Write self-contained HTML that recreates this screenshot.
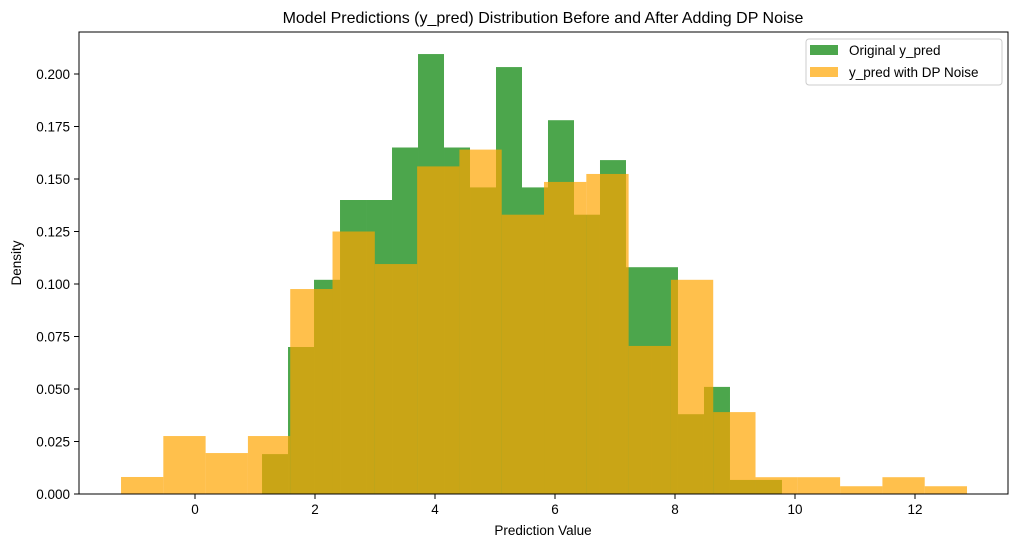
<!DOCTYPE html>
<html><head><meta charset="utf-8"><style>
body{margin:0;background:#fff;}
svg text{font-family:"Liberation Sans","DejaVu Sans",sans-serif;fill:#000;}
</style></head><body>
<svg id="chart" width="1018" height="547" xmlns="http://www.w3.org/2000/svg">
<rect width="1018" height="547" fill="#fff"/>
<text x="543" y="23" font-size="16" text-anchor="middle">Model Predictions (y_pred) Distribution Before and After Adding DP Noise</text>
<g id="bars"></g>
<rect x="79" y="32" width="929" height="462" fill="none" stroke="#000" stroke-width="1"/>
<g id="xticks"></g><g id="yticks"></g>
<text x="543" y="535" font-size="13.5" text-anchor="middle">Prediction Value</text>
<text transform="translate(21,263) rotate(-90)" font-size="13.5" text-anchor="middle">Density</text>
<g>
<rect x="806" y="39" width="196" height="46" rx="3" fill="#fff" fill-opacity="0.8" stroke="#ccc"/>
<rect x="810" y="45" width="28" height="10" fill="green" fill-opacity="0.7"/>
<text x="849" y="55" font-size="13.5">Original y_pred</text>
<rect x="810" y="67" width="28" height="10" fill="orange" fill-opacity="0.7"/>
<text x="849" y="77" font-size="13.5">y_pred with DP Noise</text>
</g>
</svg>
<script>
const greenStart = 1.117;
const greenWidth = 0.4333;
const greenValues = [0.019,0.070,0.102,0.140,0.140,0.165,0.2095,0.165,0.146,0.2033,0.146,0.178,0.133,0.159,0.108,0.108,0.038,0.051,0.0067,0.0067];
const orangeStart = -1.233;
const orangeWidth = 0.705;
const orangeValues = [0.0081,0.0276,0.0195,0.0276,0.0976,0.125,0.1095,0.156,0.164,0.133,0.1486,0.1524,0.0705,0.102,0.039,0.008,0.008,0.0037,0.008,0.0037];
const xTicks = [0,2,4,6,8,10,12];
const yTicks = [0,0.025,0.05,0.075,0.1,0.125,0.15,0.175,0.2];
const NS="http://www.w3.org/2000/svg";
function xs(v){return 195+60*v;}
function ys(v){return 494-2100*v;}
const bars=document.getElementById('bars');
function drawHist(start,w,vals,color,name){
  vals.forEach((v,i)=>{
    const r=document.createElementNS(NS,'rect');
    const x0=xs(start+i*w), x1=xs(start+(i+1)*w);
    r.setAttribute('x',x0);r.setAttribute('width',x1-x0);
    r.setAttribute('y',ys(v));r.setAttribute('height',ys(0)-ys(v));
    r.setAttribute('fill',color);r.setAttribute('fill-opacity','0.7');
    
    
    bars.appendChild(r);
  });
}
drawHist(greenStart,greenWidth,greenValues,'green','original');
drawHist(orangeStart,orangeWidth,orangeValues,'orange','noise');
const xg=document.getElementById('xticks');
xTicks.forEach(t=>{
  const l=document.createElementNS(NS,'line');
  l.setAttribute('x1',xs(t));l.setAttribute('x2',xs(t));l.setAttribute('y1',494);l.setAttribute('y2',499);l.setAttribute('stroke','#000');
  
  
  xg.appendChild(l);
  const tx=document.createElementNS(NS,'text');
  tx.setAttribute('x',xs(t));tx.setAttribute('y',514);tx.setAttribute('font-size','13.5');tx.setAttribute('text-anchor','middle');
  tx.textContent=t;
  
  
  xg.appendChild(tx);
});
const yg=document.getElementById('yticks');
yTicks.forEach(t=>{
  const l=document.createElementNS(NS,'line');
  l.setAttribute('x1',74);l.setAttribute('x2',79);l.setAttribute('y1',ys(t));l.setAttribute('y2',ys(t));l.setAttribute('stroke','#000');
  
  
  yg.appendChild(l);
  const tx=document.createElementNS(NS,'text');
  tx.setAttribute('x',70);tx.setAttribute('y',ys(t)+5);tx.setAttribute('font-size','13.5');tx.setAttribute('text-anchor','end');
  tx.textContent=t.toFixed(3);
  
  
  yg.appendChild(tx);
});
</script>
</body></html>
